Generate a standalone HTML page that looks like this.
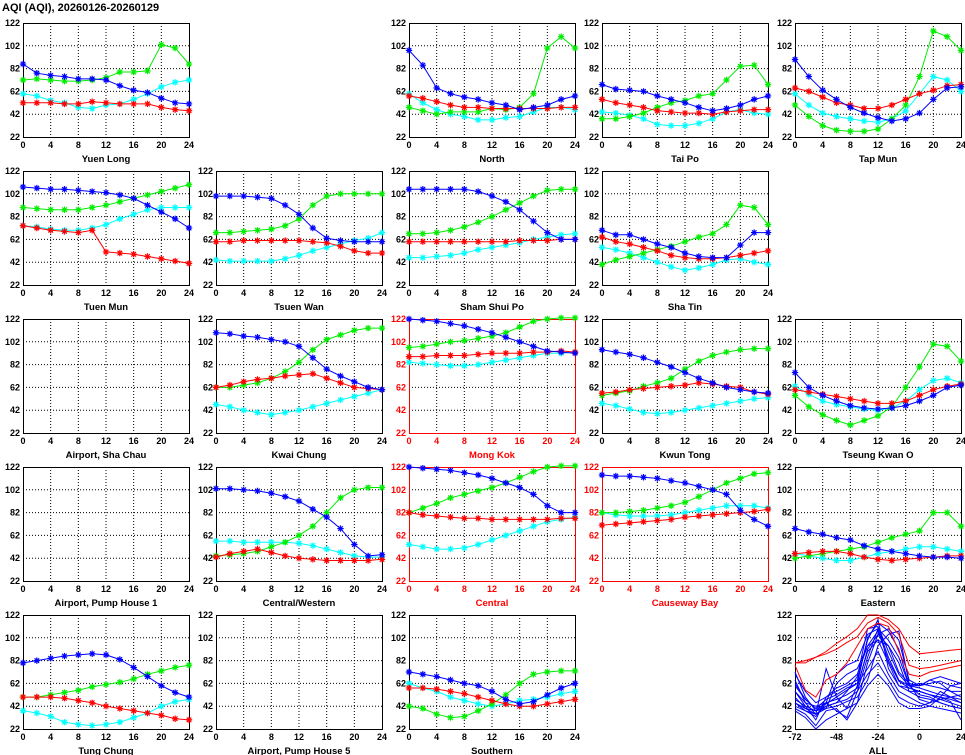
<!DOCTYPE html>
<html><head><meta charset="utf-8">
<style>
html,body{margin:0;padding:0;background:#fff;}
svg{display:block;font-family:"Liberation Sans",sans-serif;}
</style></head>
<body>
<svg id="chart" width="965" height="755" viewBox="0 0 965 755" xmlns="http://www.w3.org/2000/svg">
<text x="2" y="11" font-size="11" font-weight="bold">AQI (AQI), 20260126-20260129</text>
</svg>
<script>
const hours = [0,2,4,6,8,10,12,14,16,18,20,22,24];
const xTicks = [0,4,8,12,16,20,24];
const yTicks = [22,42,62,82,102,122];
const allHours = [-72,-66,-60,-54,-48,-42,-36,-30,-24,-18,-12,-6,0,6,12,18,24];
const allTicks = [-72,-48,-24,0,24];
const seriesColors = {blue:"#0000ff", green:"#00ee00", red:"#ff0000", cyan:"#00ffff"};

const stationNames = ["Yuen Long","North","Tai Po","Tap Mun","Tuen Mun","Tsuen Wan","Sham Shui Po","Sha Tin","Airport, Sha Chau","Kwai Chung","Mong Kok","Kwun Tong","Tseung Kwan O","Airport, Pump House 1","Central/Western","Central","Causeway Bay","Eastern","Tung Chung","Airport, Pump House 5","Southern"];
const stationCols = [0,2,3,4,0,1,2,3,0,1,2,3,4,0,1,2,3,4,0,1,2];
const stationRows = [0,0,0,0,1,1,1,1,2,2,2,2,2,3,3,3,3,3,4,4,4];
const roadside = ["Mong Kok","Central","Causeway Bay"];

const blueVals = {
"Yuen Long":[86,78,76,75,73,73,72,67,63,61,56,52,51],
"North":[98,85,65,60,57,55,52,50,46,48,50,55,58],
"Tai Po":[68,64,63,62,58,55,52,48,45,47,50,55,58],
"Tap Mun":[90,75,63,55,48,43,39,36,38,43,55,65,66],
"Tuen Mun":[108,107,106,106,105,104,103,101,98,92,86,80,72],
"Tsuen Wan":[100,100,100,99,98,92,84,72,63,61,60,60,60],
"Sham Shui Po":[106,106,106,106,106,104,100,95,88,78,68,62,62],
"Sha Tin":[70,66,66,62,58,55,50,47,46,46,57,68,68],
"Kwai Chung":[110,109,107,106,104,102,98,88,78,72,67,62,60],
"Mong Kok":[122,121,120,118,116,113,110,106,102,98,94,93,92],
"Kwun Tong":[95,93,91,88,84,80,75,70,66,62,60,58,57],
"Tseung Kwan O":[75,62,55,50,46,44,43,44,46,50,55,62,64],
"Central/Western":[103,103,102,101,99,96,92,85,78,68,54,44,45],
"Central":[122,121,120,119,117,115,112,108,104,98,88,82,82],
"Causeway Bay":[115,114,114,113,112,110,108,105,102,98,84,76,70],
"Eastern":[68,65,63,60,58,53,50,48,46,44,43,43,42],
"Tung Chung":[80,82,84,86,87,88,87,83,76,68,60,54,50],
"Southern":[72,70,68,65,62,60,55,48,44,46,52,58,62]
};
const greenVals = {
"Yuen Long":[72,73,72,71,71,72,74,79,79,80,103,100,86],
"North":[48,45,42,44,44,44,47,46,48,60,100,110,100],
"Tai Po":[38,38,40,43,48,52,54,58,60,72,84,85,68],
"Tap Mun":[50,40,32,28,27,27,29,38,50,75,115,110,98],
"Tuen Mun":[90,89,88,88,88,90,92,95,98,101,104,107,110],
"Tsuen Wan":[68,68,69,70,71,74,80,92,100,102,102,102,102],
"Sham Shui Po":[67,67,68,70,73,77,82,88,94,100,105,106,106],
"Sha Tin":[40,44,47,50,53,56,60,64,67,75,92,90,75],
"Kwai Chung":[62,62,64,66,70,76,84,95,104,108,112,114,114],
"Mong Kok":[97,98,100,102,103,105,107,110,115,120,122,123,123],
"Kwun Tong":[55,57,59,63,66,70,78,85,90,93,95,96,96],
"Tseung Kwan O":[55,45,38,33,29,33,37,45,62,80,100,98,85],
"Central/Western":[44,45,46,48,52,56,62,70,82,95,102,104,104],
"Central":[82,86,90,95,98,101,104,108,113,118,122,123,123],
"Causeway Bay":[82,82,83,84,86,88,91,96,102,108,112,116,117],
"Eastern":[42,44,46,48,50,52,56,60,63,66,82,82,70],
"Tung Chung":[50,50,52,54,56,59,61,63,66,70,73,76,78],
"Southern":[42,40,35,32,33,38,44,52,62,70,72,73,73]
};
const redVals = {
"Yuen Long":[52,52,52,51,51,53,52,51,51,51,48,46,45],
"North":[58,56,53,50,48,48,47,47,47,47,47,48,48],
"Tai Po":[55,52,50,48,45,44,43,43,42,44,45,46,46],
"Tap Mun":[65,62,57,52,50,47,47,50,55,60,63,67,68],
"Tuen Mun":[74,72,70,69,68,70,51,50,49,47,45,43,41],
"Tsuen Wan":[60,60,61,61,61,61,61,60,59,56,52,50,50],
"Sham Shui Po":[60,60,60,60,60,60,60,60,61,61,61,62,62],
"Sha Tin":[64,60,58,55,52,48,46,45,45,46,48,50,52],
"Kwai Chung":[62,64,67,69,70,72,73,74,70,66,62,61,60],
"Mong Kok":[89,89,90,90,90,91,92,92,92,93,93,94,93],
"Kwun Tong":[57,58,60,61,62,63,64,66,65,63,62,58,56],
"Tseung Kwan O":[60,58,56,54,52,50,48,48,50,55,60,63,65],
"Central/Western":[43,46,48,50,47,44,42,41,40,40,40,40,41],
"Central":[82,80,79,78,77,77,76,76,76,76,76,77,77],
"Causeway Bay":[71,72,73,74,75,76,78,79,80,81,82,83,85],
"Eastern":[46,47,48,48,46,43,41,40,41,42,43,44,44],
"Tung Chung":[50,50,50,49,47,45,42,40,38,36,34,31,30],
"Southern":[58,58,57,55,53,50,47,44,42,42,44,46,48]
};
const cyanVals = {
"Yuen Long":[60,58,54,52,48,47,50,51,55,60,66,70,72],
"North":[60,52,46,42,40,37,37,39,40,44,48,48,46],
"Tai Po":[44,43,41,38,33,32,32,34,38,44,46,43,42],
"Tap Mun":[60,50,43,40,38,36,35,38,45,60,75,72,62],
"Tuen Mun":[74,73,71,70,70,72,75,80,84,88,90,90,90],
"Tsuen Wan":[44,43,43,43,43,45,48,52,55,58,61,63,68],
"Sham Shui Po":[46,46,47,48,50,53,55,57,59,62,64,66,67],
"Sha Tin":[55,53,50,46,42,38,35,37,40,44,45,42,40],
"Kwai Chung":[47,45,42,40,38,40,42,45,48,51,54,57,60],
"Mong Kok":[84,83,82,81,81,82,84,86,88,90,92,92,93],
"Kwun Tong":[48,46,43,40,39,40,42,44,46,48,50,52,53],
"Tseung Kwan O":[63,56,50,47,45,43,42,44,50,60,68,70,66],
"Central/Western":[57,57,56,56,56,56,55,53,50,47,44,43,43],
"Central":[54,52,50,50,51,54,58,62,66,70,74,76,78],
"Causeway Bay":[82,80,79,79,79,80,82,84,86,88,88,88,86],
"Eastern":[46,44,42,40,40,43,46,48,50,52,52,50,48],
"Tung Chung":[38,36,33,28,26,25,26,28,32,36,42,46,48],
"Southern":[62,58,55,50,47,44,42,44,47,48,50,53,55]
};
const allRed = [
[80,80,85,90,97,103,110,122,122,118,110,95,88,89,90,91,92],
[80,82,85,88,92,98,103,115,120,115,105,78,75,76,78,80,82],
[78,56,50,65,70,80,95,110,115,112,90,70,68,72,74,76,78]
];
const allBlue = [
[72,50,38,45,70,78,82,105,110,85,65,60,58,55,52,50,48],
[65,45,35,40,62,70,75,95,100,80,60,58,55,52,50,48,45],
[55,42,30,50,55,60,65,100,118,75,60,55,55,52,48,45,42],
[50,40,35,42,45,55,68,110,112,90,70,60,52,50,45,42,40],
[45,38,33,45,38,32,55,85,110,100,85,60,62,60,58,55,55],
[40,35,25,38,40,30,45,80,105,110,100,65,60,62,64,60,58],
[42,38,35,75,50,40,60,90,100,95,80,55,50,48,45,42,40],
[60,48,40,48,52,58,62,75,90,70,55,50,45,42,40,38,36],
[48,42,38,42,45,48,55,70,80,65,50,45,42,45,48,50,52],
[38,32,22,30,35,40,45,60,70,60,45,40,40,42,50,60,62],
[55,45,42,45,48,52,58,92,105,95,72,62,60,65,68,65,62],
[62,48,40,44,50,56,62,102,115,108,92,60,60,65,62,55,50],
[45,40,38,40,42,46,50,65,95,105,108,62,48,45,55,50,45],
[70,55,45,50,58,62,70,95,108,82,64,58,55,52,50,46,30]
];

const NS = "http://www.w3.org/2000/svg";
const svg = document.getElementById("chart");
function mk(tag, attrs, parent){
  const e = document.createElementNS(NS, tag);
  for (const k in attrs) e.setAttribute(k, attrs[k]);
  (parent||svg).appendChild(e);
  return e;
}
const PW = 166, PH = 114;
function slug(s){return s.toLowerCase().replace(/[^a-z0-9]+/g,'-').replace(/^-|-$/g,'');}

function drawPanel(name, col, row, xmin, xmax, xt, isRed){
  const L = 23 + col*193, T = 23 + row*148;
  const xs = v => L + (v - xmin)/(xmax - xmin)*PW;
  const ys = v => T + PH - (v - 22)/100*PH;
  const g = mk("g", {});
  
  
  const tc = isRed ? "#ff0000" : "#000";
  xt.forEach(t => {
    const x = xs(t);
    if (t !== xmin && t !== xmax) mk("line",{x1:x,y1:T,x2:x,y2:T+PH,stroke:"#000","stroke-width":1,"stroke-dasharray":"1,2"},g);
    const lb = mk("text",{x:x,y:T+PH+11,"font-size":9,"font-weight":"bold","text-anchor":"middle",fill:tc},g);
    lb.textContent = t;
    
    
  });
  yTicks.forEach(t => {
    const y = ys(t);
    if (t !== 22 && t !== 122) mk("line",{x1:L,y1:y,x2:L+PW,y2:y,stroke:"#000","stroke-width":1,"stroke-dasharray":"1,2"},g);
    const lb = mk("text",{x:L-3,y:y+3,"font-size":9,"font-weight":"bold","text-anchor":"end",fill:tc},g);
    lb.textContent = t;
    
    
  });
  const fr = mk("rect",{x:L+0.5,y:T+0.5,width:PW,height:PH,fill:"none",stroke:tc,"stroke-width":1},g);
  
  
  const tt = mk("text",{x:L+PW/2,y:T+PH+25,"font-size":9.5,"font-weight":"bold","text-anchor":"middle",fill:tc},g);
  tt.textContent = name;
  
  
  return {g, xs, ys};
}

function drawSeries(p, xv, vals, color, name, markers){
  const pts = vals.map((v,i)=> p.xs(xv[i]).toFixed(1)+","+p.ys(v).toFixed(1)).join(" ");
  const pl = mk("polyline",{points:pts,fill:"none",stroke:color,"stroke-width":1},p.g);
  
  
  if (!markers) return;
  vals.forEach((v,i)=>{
    const x = p.xs(xv[i]), y = p.ys(v), r = 3.2, d = 2.3;
    const m = mk("path",{d:`M${x-r},${y}H${x+r}M${x},${y-r}V${y+r}M${x-d},${y-d}L${x+d},${y+d}M${x-d},${y+d}L${x+d},${y-d}`,stroke:color,"stroke-width":1.2,fill:"none"},p.g);
    
    
  });
}

stationNames.forEach((n,i)=>{
  const p = drawPanel(n, stationCols[i], stationRows[i], 0, 24, xTicks, roadside.includes(n));
  if (blueVals[n]) {
    drawSeries(p, hours, cyanVals[n], seriesColors.cyan, "cyan-series", true);
    drawSeries(p, hours, greenVals[n], seriesColors.green, "green-series", true);
    drawSeries(p, hours, redVals[n], seriesColors.red, "red-series", true);
    drawSeries(p, hours, blueVals[n], seriesColors.blue, "blue-series", true);
  }
});

const pa = drawPanel("ALL", 4, 4, -72, 24, allTicks, false);
allBlue.forEach(s => drawSeries(pa, allHours, s, seriesColors.blue, "all-blue-line", false));
allRed.forEach(s => drawSeries(pa, allHours, s, seriesColors.red, "all-red-line", false));
</script>
</body></html>
